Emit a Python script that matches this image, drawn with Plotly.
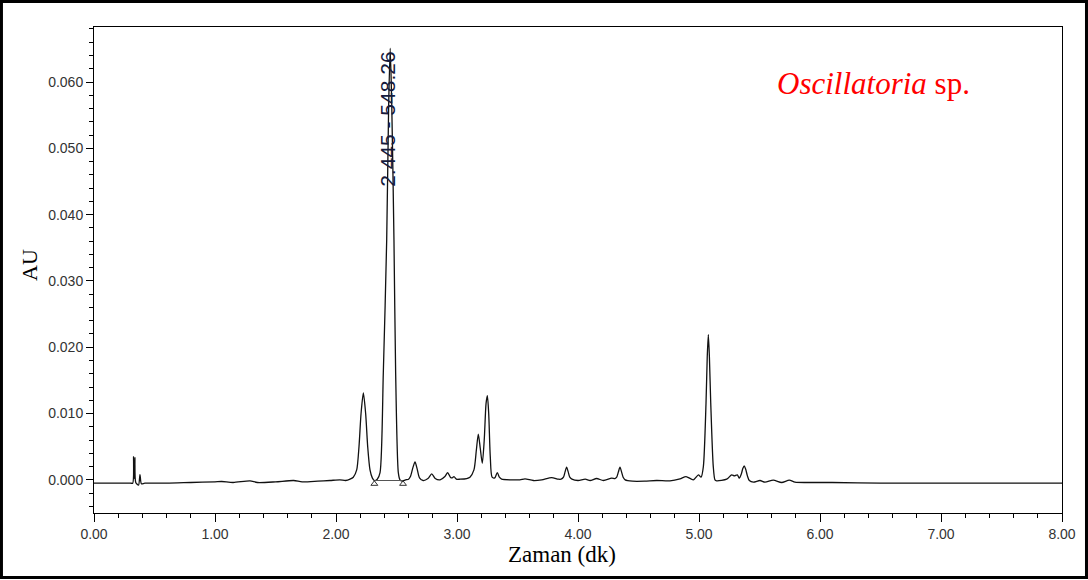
import plotly.graph_objects as go

# ---- data ----
time_min = [
    0.00, 0.10, 0.20, 0.30, 0.320, 0.327, 0.333, 0.338, 0.345, 0.368, 0.380, 0.392, 0.42,
    0.60, 0.80, 1.00, 1.055, 1.15, 1.289, 1.35, 1.50, 1.65, 1.72, 1.85, 1.95, 2.033, 2.080,
    2.116, 2.143, 2.171, 2.190, 2.207, 2.226, 2.245, 2.262, 2.281, 2.300, 2.317, 2.341,
    2.364, 2.391, 2.419, 2.435, 2.448, 2.461, 2.479, 2.493, 2.515, 2.529, 2.545, 2.575,
    2.600, 2.615, 2.635, 2.653, 2.670, 2.690, 2.720, 2.760, 2.791, 2.820, 2.860, 2.900,
    2.923, 2.945, 2.960, 2.975, 2.995, 3.025, 3.080, 3.107, 3.140, 3.160, 3.176, 3.192,
    3.209, 3.225, 3.240, 3.251, 3.262, 3.275, 3.290, 3.312, 3.333, 3.350, 3.369, 3.45,
    3.52, 3.562, 3.631, 3.70, 3.782, 3.837, 3.860, 3.880, 3.893, 3.906, 3.919, 3.932,
    3.950, 4.00, 4.060, 4.10, 4.154, 4.21, 4.278, 4.305, 4.320, 4.334, 4.347, 4.360,
    4.373, 4.390, 4.45, 4.55, 4.65, 4.76, 4.843, 4.893, 4.953, 4.995, 5.017, 5.036,
    5.058, 5.068, 5.077, 5.086, 5.097, 5.118, 5.132, 5.146, 5.229, 5.270, 5.292, 5.317,
    5.333, 5.350, 5.362, 5.374, 5.386, 5.400, 5.416, 5.450, 5.504, 5.545, 5.614, 5.683,
    5.746, 5.793, 5.90, 6.10, 6.50, 7.00, 7.50, 8.00,
]
absorbance_au = [
    -0.0005, -0.0005, -0.0005, -0.0005, -0.0005, 0.0035, 0.0002, 0.0034, -0.0004, -0.0008, 0.0008, -0.0006, -0.0005,
    -0.0005, -0.0004, -0.0003, -0.00025, -0.0004, -0.00015, -0.0004, -0.0003, -0.0001, -0.0003, -0.0002, -0.0001, 0.0, -0.0001,
    0.0001, 0.0004, 0.0015, 0.0050, 0.0100, 0.0131, 0.0100, 0.0050, 0.0015, 0.0003, -0.0001, 0.0001,
    0.0011, 0.0161, 0.0362, 0.0563, 0.0651, 0.0563, 0.0362, 0.0161, 0.0011, 0.0000, -0.0002, 0.0,
    0.0001, 0.0005, 0.0018, 0.0027, 0.0017, 0.0003, -0.0001, 0.0002, 0.0009, 0.0002, 0.0, 0.0005,
    0.0011, 0.0004, 0.0003, 0.0005, 0.0001, 0.0001, 0.0002, 0.0004, 0.0015, 0.0045, 0.0069, 0.0048,
    0.0025, 0.0060, 0.0115, 0.0127, 0.0100, 0.0035, 0.0004, 0.0003, 0.0011, 0.0004, 0.0001, 0.0,
    0.0, 0.00015, -0.0001, 0.0, 0.00035, 0.0001, 0.0001, 0.0004, 0.0012, 0.0019, 0.0012, 0.0004,
    0.0001, -0.0001, 0.0001, -0.0001, 0.0002, -0.0001, 0.00025, 0.0002, 0.0004, 0.0012, 0.0019, 0.0012,
    0.0004, 0.0, -0.0002, -0.0002, -0.0001, -0.00015, 0.00015, 0.0005, 0.0, 0.00075, 0.0004, 0.0020,
    0.0116, 0.0185, 0.0219, 0.0185, 0.0116, 0.0020, 0.0000, -0.00015, 0.0001, 0.00075, 0.0006, 0.00075,
    0.00025, 0.0009, 0.0017, 0.0021, 0.0016, 0.0006, -0.0001, -0.00035, -0.0001, -0.00035, -0.00005, -0.0004,
    -0.00005, -0.00035, -0.0004, -0.0004, -0.0005, -0.0005, -0.0005, -0.0005,
]

integration_times = [2.317, 2.554]
integration_marker_au = [-0.0006, -0.0006]
integration_line_au = [-0.0001, -0.0001]

peak_label = "2.445 - 548.26"
peak_label_time = 2.43
peak_label_au = 0.0543

x_tick_values = [0, 1, 2, 3, 4, 5, 6, 7, 8]
x_tick_labels = ["0.00", "1.00", "2.00", "3.00", "4.00", "5.00", "6.00", "7.00", "8.00"]
y_tick_values = [0.0, 0.01, 0.02, 0.03, 0.04, 0.05, 0.06]
y_tick_labels = ["0.000", "0.010", "0.020", "0.030", "0.040", "0.050", "0.060"]

x_title = "Zaman (dk)"
y_title = "AU"
sample_title = "<i>Oscillatoria</i> sp."

# ---- figure ----
fig = go.Figure()

fig.add_trace(go.Scatter(
    x=time_min, y=absorbance_au, mode="lines",
    line=dict(color="#111111", width=1.3, shape="spline", smoothing=0.7),
    hoverinfo="skip", showlegend=False,
))

fig.add_trace(go.Scatter(
    x=integration_times, y=integration_line_au, mode="lines",
    line=dict(color="#555555", width=1), hoverinfo="skip", showlegend=False,
))
fig.add_trace(go.Scatter(
    x=integration_times, y=integration_marker_au, mode="markers",
    marker=dict(symbol="triangle-up-open", size=6, color="#333333", line=dict(width=1)),
    hoverinfo="skip", showlegend=False,
))

tick_font_y = dict(family="Liberation Sans, Arial, sans-serif", size=14, color="#333333")
tick_font_x = dict(family="Liberation Sans Narrow, Arial Narrow, Liberation Sans, Arial, sans-serif",
                   size=14, color="#333333")

fig.update_xaxes(
    range=[0, 8], tickmode="array", tickvals=x_tick_values, ticktext=x_tick_labels,
    ticks="outside", ticklen=8, tickwidth=1, tickcolor="#000000",
    minor=dict(ticks="outside", ticklen=4, dtick=0.2, tick0=0, tickcolor="#000000"),
    showline=True, linecolor="#000000", linewidth=1, mirror=True,
    showgrid=False, zeroline=False, tickfont=tick_font_x,
)
fig.update_yaxes(
    range=[-0.005, 0.0683], tickmode="array", tickvals=y_tick_values, ticktext=y_tick_labels,
    ticks="outside", ticklen=7, tickwidth=1, tickcolor="#000000",
    minor=dict(ticks="outside", ticklen=4, dtick=0.002, tick0=0, tickcolor="#000000"),
    showline=True, linecolor="#000000", linewidth=1, mirror=True,
    showgrid=False, zeroline=False, tickfont=tick_font_y,
)

serif = "Liberation Serif, Times New Roman, serif"

fig.add_annotation(
    x=peak_label_time, y=peak_label_au, xref="x", yref="y", text=peak_label,
    textangle=-90, showarrow=False, xanchor="center", yanchor="middle",
    font=dict(family="Liberation Sans, Arial, sans-serif", size=21, color="#161a3c"),
)
fig.add_annotation(
    x=0.805, y=0.883, xref="paper", yref="paper", text=sample_title,
    showarrow=False, xanchor="center", yanchor="middle",
    font=dict(family=serif, size=31, color="#ff0000"),
)
fig.add_annotation(
    x=-0.0661, y=0.5103, xref="paper", yref="paper", text=y_title, textangle=-90,
    showarrow=False, xanchor="center", yanchor="middle",
    font=dict(family=serif, size=22, color="#000000"),
)
fig.add_annotation(
    x=0.4835, y=-0.0864, xref="paper", yref="paper", text=x_title,
    showarrow=False, xanchor="center", yanchor="middle",
    font=dict(family=serif, size=23, color="#000000"),
)

# outer frame around the whole picture
fig.add_shape(
    type="rect", xref="paper", yref="paper",
    x0=-0.0956, x1=1.0253, y0=-0.1327, y1=1.0525,
    line=dict(color="#000000", width=3), fillcolor="rgba(0,0,0,0)", layer="above",
)

fig.update_layout(
    width=1088, height=580,
    margin=dict(l=94, r=26, t=27, b=67, pad=0),
    paper_bgcolor="#ffffff", plot_bgcolor="#ffffff",
    showlegend=False,
)

fig.write_html(
    "out.html",
    config={"displayModeBar": False},
    post_script="document.body.style.margin='0';document.body.style.padding='0';",
)
